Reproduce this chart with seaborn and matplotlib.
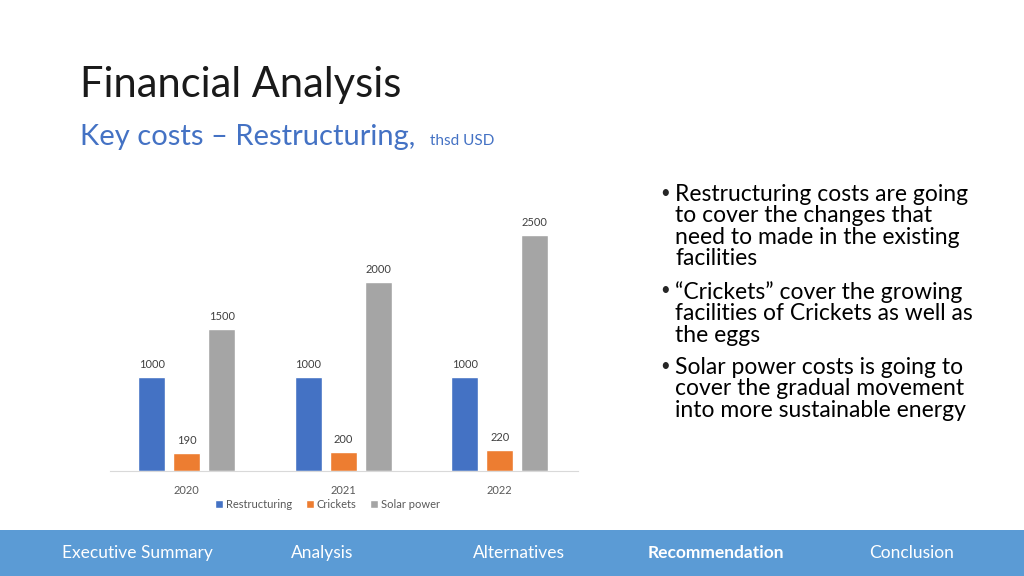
import matplotlib.pyplot as plt
import pandas as pd
import seaborn as sns
from matplotlib.patches import Rectangle

years = ['2020', '2021', '2022']
restructuring = [1000, 1000, 1000]
crickets = [190, 200, 220]
solar_power = [1500, 2000, 2500]
series_names = ['Restructuring', 'Crickets', 'Solar power']
colors = ['#4472C4', '#ED7D31', '#A5A5A5']

bullets = [
    'Restructuring costs are going\nto cover the changes that\nneed to made in the existing\nfacilities',
    '\u201cCrickets\u201d cover the growing\nfacilities of Crickets as well as\nthe eggs',
    'Solar power costs is going to\ncover the gradual movement\ninto more sustainable energy',
]
nav_items = ['Executive Summary', 'Analysis', 'Alternatives', 'Recommendation', 'Conclusion']

rows = []
for name, vals in zip(series_names, [restructuring, crickets, solar_power]):
    for y, v in zip(years, vals):
        rows.append({'Year': y, 'Series': name, 'Cost': v})
df = pd.DataFrame(rows)

sns.set_style('white')
plt.rcParams['font.family'] = ['Lato', 'DejaVu Sans']

fig = plt.figure(figsize=(10.24, 5.76), dpi=100)
ax = fig.add_axes([0.1074, 0.1823, 0.457, 0.4588])

sns.barplot(data=df, x='Year', y='Cost', hue='Series', order=years,
            hue_order=series_names, palette=colors, width=0.67, gap=0.23,
            saturation=1, ax=ax)
for cont in ax.containers:
    ax.bar_label(cont, fontsize=8, color='#404040', padding=5)

ax.set_ylim(0, 2800)
ax.set_xlim(-0.49, 2.5)
ax.set_xlabel('')
ax.set_ylabel('')
ax.set_yticks([])
for side in ['left', 'right', 'top']:
    ax.spines[side].set_visible(False)
ax.spines['bottom'].set_color('#d9d9d9')
ax.tick_params(axis='x', length=0, labelsize=8, labelcolor='#595959', pad=10)

ax.legend(loc='center', bbox_to_anchor=(0.32, 0.125), bbox_transform=fig.transFigure,
          ncol=3, frameon=False, fontsize=8, handlelength=0.7, handleheight=0.7,
          columnspacing=1.2, handletextpad=0.3, labelcolor='#595959')

# titles
fig.text(80 / 1024, 1 - 85 / 576, 'Financial Analysis', fontsize=30, color='#1a1a1a',
         va='center', ha='left')
fig.text(80 / 1024, 1 - 137 / 576, 'Key costs \u2013 Restructuring,', fontsize=21,
         color='#4472C4', va='center', ha='left')
fig.text(430 / 1024, 1 - 141 / 576, 'thsd USD', fontsize=11, color='#4472C4',
         va='center', ha='left')

# bullet text
bullet_y = [193, 290, 366]
for b, y in zip(bullets, bullet_y):
    fig.text(660 / 1024, 1 - y / 576, '\u2022', fontsize=12, va='center', ha='left')
    fig.text(675 / 1024, 1 - (y - 9) / 576, b, fontsize=16.5, va='top', ha='left',
             linespacing=1.02, color='black')

# footer band
fig.patches.append(Rectangle((0, 0), 1, 46 / 576, transform=fig.transFigure,
                             facecolor='#5B9BD5', edgecolor='none', zorder=0))
nav_x = [137, 322, 519, 716, 912]
for name, x in zip(nav_items, nav_x):
    fig.text(x / 1024, 1 - 553 / 576, name, fontsize=12.5, color='white',
             fontweight='bold' if name == 'Recommendation' else 'normal',
             ha='center', va='center')

fig.savefig('out.png', dpi=100)
